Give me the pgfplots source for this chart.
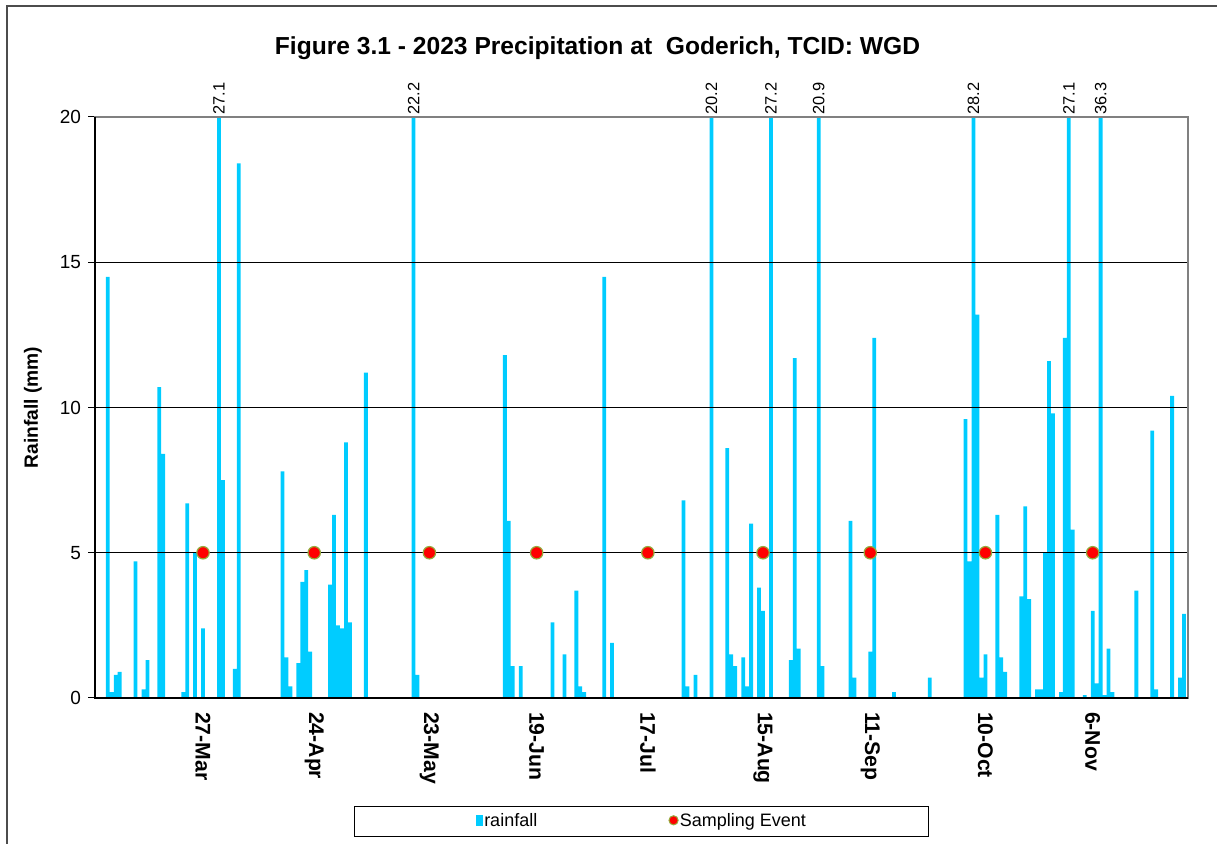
\documentclass[border=0pt]{standalone}
\usepackage{fontspec}
\setmainfont{Liberation Sans}
\usepackage{pgfplots}
\usepackage{pgfplotstable}
\pgfplotsset{compat=1.18}
\definecolor{barcol}{RGB}{0,204,255}
\definecolor{sampedge}{RGB}{150,170,60}
\pgfplotstableread{
d r
62 14.5
63 0.2
64 0.8
65 0.9
69 4.7
71 0.3
72 1.3
75 10.7
76 8.4
81 0.2
82 6.7
84 5.0
86 2.4
90 27.1
91 7.5
94 1.0
95 18.4
106 7.8
107 1.4
108 0.4
110 1.2
111 4.0
112 4.4
113 1.6
118 3.9
119 6.3
120 2.5
121 2.4
122 8.8
123 2.6
127 11.2
139 22.2
140 0.8
162 11.8
163 6.1
164 1.1
166 1.1
174 2.6
177 1.5
180 3.7
181 0.4
182 0.2
187 14.5
189 1.9
207 6.8
208 0.4
210 0.8
214 20.2
218 8.6
219 1.5
220 1.1
222 1.4
223 0.4
224 6.0
226 3.8
227 3.0
229 27.2
234 1.3
235 11.7
236 1.7
241 20.9
242 1.1
249 6.1
250 0.7
254 1.6
255 12.4
260 0.2
269 0.7
278 9.6
279 4.7
280 28.2
281 13.2
282 0.7
283 1.5
286 6.3
287 1.4
288 0.9
292 3.5
293 6.6
294 3.4
296 0.3
297 0.3
298 5.0
299 11.6
300 9.8
302 0.2
303 12.4
304 27.1
305 5.8
308 0.1
310 3.0
311 0.5
312 36.3
313 0.1
314 1.7
315 0.2
321 3.7
325 9.2
326 0.3
330 10.4
332 0.7
333 2.9
}\rain
\begin{document}
\begin{tikzpicture}
\draw[black!70, line width=1pt] (3.5pt,-422pt) -- (3.5pt,-3pt) -- (608.5pt,-3pt);
\node[font=\bfseries\fontsize{12.3}{14}\selectfont] at (298.75pt,-24.3pt) {Figure 3.1 - 2023 Precipitation at \ Goderich, TCID: WGD};
\begin{axis}[
  at={(47.5pt,-349pt)}, anchor=south west,
  scale only axis, width=546.5pt, height=290.5pt,
  xmin=58.8, xmax=334, ymin=0, ymax=20,
  clip=false, set layers,
  axis line style={draw=gray, line width=0.8pt},
  ytick={0,5,10,15,20}, ytick pos=left,
  ymajorgrids, grid style={black, line width=0.5pt},
  tick align=outside, major tick length=3.5pt,
  ytick style={black, line width=0.5pt},
  xtick={86,114,143,170,198,227,254,283,310},
  xticklabels={27-Mar,24-Apr,23-May,19-Jun,17-Jul,15-Aug,11-Sep,10-Oct,6-Nov},
  xtick style={draw=none},
  xticklabel style={rotate=-90, anchor=west, font=\bfseries\fontsize{10.6}{12}\selectfont},
  xticklabel shift=0pt,
  yticklabel style={font=\fontsize{9.5}{11}\selectfont},
  /pgf/number format/assume math mode=true,
  ylabel={Rainfall (mm)},
  every axis y label/.style={at={(axis description cs:-0.0567,0.5)}, rotate=90, anchor=center, font=\bfseries\fontsize{9.6}{11}\selectfont},
  legend columns=2,
  legend style={at={(axis description cs:0.5,-0.2126)}, anchor=center, draw=black, line width=0.5pt,
    inner xsep=60.5pt, inner ysep=3pt, nodes={inner sep=0.6pt}, font=\fontsize{9}{10.5}\selectfont,
    /tikz/every even column/.append style={column sep=65pt}},
]
\addplot[ybar, bar width=0.95, fill=barcol, draw=none, on layer=axis background,
  restrict y to domain*=0:20,
  legend image code/.code={\fill[barcol] (0pt,-2pt) rectangle (3.6pt,3.2pt);}]
  table[x=d, y=r] {\rain};
\addlegendentry{rainfall}
\addplot[only marks, mark=*, mark size=3.1pt, mark options={fill=red, draw=sampedge, line width=0.6pt},
  legend image code/.code={\draw[fill=red, draw=sampedge, line width=0.5pt] (2.3pt,0.6pt) circle (2.3pt);}]
  coordinates {(86,5) (114,5) (143,5) (170,5) (198,5) (227,5) (254,5) (283,5) (310,5)};
\addlegendentry{Sampling Event}
\addplot[only marks, mark=none, forget plot, nodes near coords, point meta=explicit symbolic,
  every node near coord/.append style={rotate=90, anchor=west, inner sep=1pt, font=\fontsize{8.2}{9.6}\selectfont}]
  coordinates {(90,20)[27.1] (139,20)[22.2] (214,20)[20.2] (229,20)[27.2] (241,20)[20.9] (280,20)[28.2] (304,20)[27.1] (312,20)[36.3]};
\draw[black, line width=0.6pt] (rel axis cs:0,1) -- (rel axis cs:0,0) -- (rel axis cs:1,0);
\end{axis}
\pgfresetboundingbox
\path[use as bounding box] (0,0) rectangle (608.5pt,-422pt);
\end{tikzpicture}
\end{document}
